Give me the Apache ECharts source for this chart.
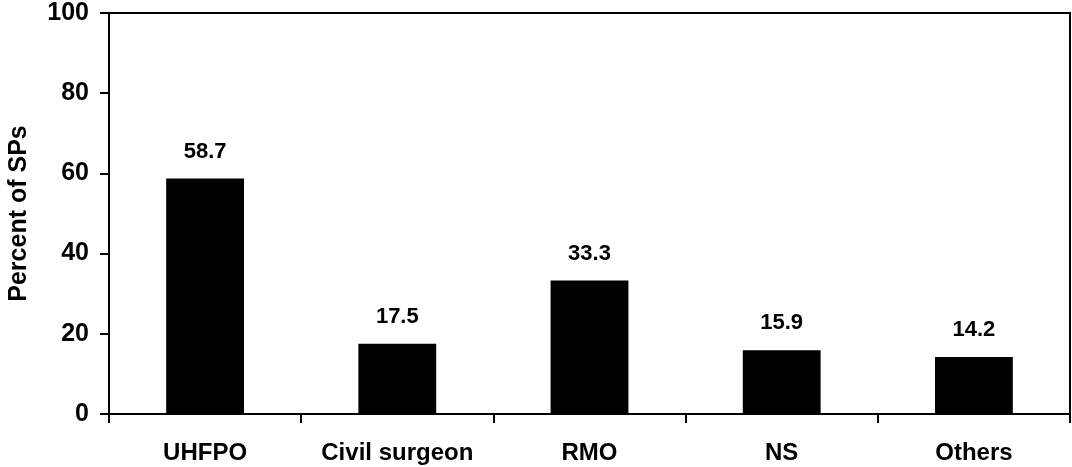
<!DOCTYPE html>
<html>
<head>
<meta charset="utf-8">
<script src="https://cdn.jsdelivr.net/npm/echarts@6/dist/echarts.min.js"></script>
<style>
html,body{margin:0;padding:0;background:#fff;}
#chart{width:1072px;height:467px;}
</style>
</head>
<body>
<div id="chart"></div>
<script>
const categories = ['UHFPO', 'Civil surgeon', 'RMO', 'NS', 'Others'];
const values = [58.7, 17.5, 33.3, 15.9, 14.2];
const yTicks = [0, 20, 40, 60, 80, 100];
const yTitle = 'Percent of SPs';

const font = '"Liberation Sans", Arial, sans-serif';
const chart = echarts.init(document.getElementById('chart'), null, {renderer: 'canvas'});
chart.setOption({
  animation: false,
  backgroundColor: '#fff',
  grid: {left: 109, right: 2, top: 13, bottom: 53, outerBoundsMode: 'none', containLabel: false, show: true, borderColor: '#000', borderWidth: 2, backgroundColor: 'transparent'},
  xAxis: {
    type: 'category',
    data: categories,
    axisLine: {lineStyle: {color: '#000', width: 2}},
    axisTick: {show: true, alignWithLabel: false, interval: 0, length: 9, lineStyle: {color: '#000', width: 2}},
    axisLabel: {interval: 0, hideOverlap: false, color: '#000', fontFamily: font, fontWeight: 'bold', fontSize: 24, margin: 27}
  },
  yAxis: {
    type: 'value',
    min: yTicks[0],
    max: yTicks[yTicks.length - 1],
    interval: 20,
    name: yTitle,
    nameLocation: 'middle',
    nameGap: 77,
    nameTextStyle: {color: '#000', fontFamily: font, fontWeight: 'bold', fontSize: 25},
    axisLine: {show: true, lineStyle: {color: '#000', width: 2}},
    axisTick: {show: true, length: 9, lineStyle: {color: '#000', width: 2}},
    splitLine: {show: false},
    axisLabel: {color: '#000', fontFamily: font, fontWeight: 'bold', fontSize: 25, margin: 20}
  },
  series: [{
    type: 'bar',
    data: values,
    barWidth: '40.5%',
    itemStyle: {color: '#000'},
    label: {show: true, position: 'top', distance: 16, color: '#000', fontFamily: font, fontWeight: 'bold', fontSize: 22, formatter: p => p.value.toFixed(1)}
  }]
});
</script>
</body>
</html>
